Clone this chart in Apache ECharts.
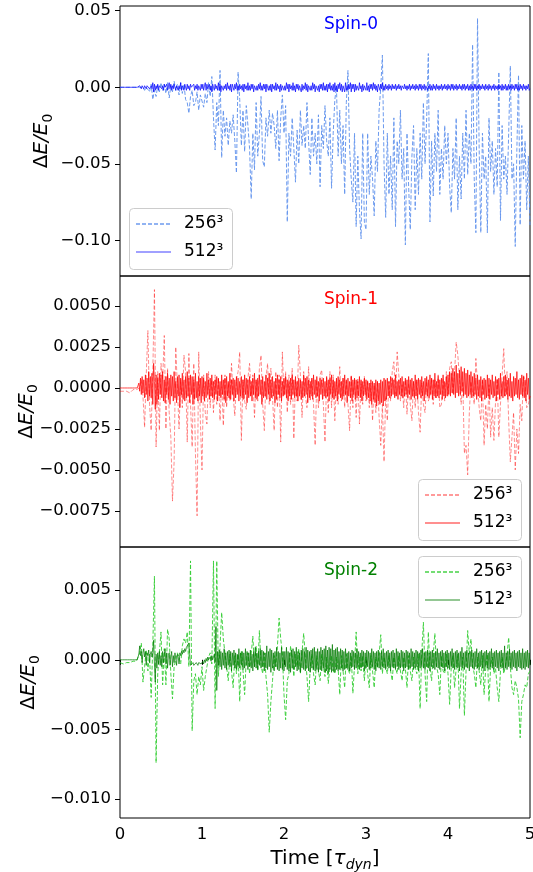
<!DOCTYPE html>
<html>
<head>
<meta charset="utf-8">
<script src="https://cdn.jsdelivr.net/npm/echarts@6/dist/echarts.min.js"></script>
<style>
html, body { margin: 0; padding: 0; background: #fff; }
#chart { width: 533px; height: 872px; }
</style>
</head>
<body>
<div id="chart"></div>
<script>
// sampling steps of the two runs (time in tau_dyn)
const DT_256 = 0.02;
const DT_512 = 0.01;

const xTicks = [0, 1, 2, 3, 4, 5];
const spin0Ticks = [-0.10, -0.05, 0, 0.05];
const spin1Ticks = [-0.0075, -0.005, -0.0025, 0, 0.0025, 0.005];
const spin2Ticks = [-0.010, -0.005, 0, 0.005];
const legendLabels = ['256\u00b3', '512\u00b3'];

// Spin-0, 256^3 (dt = 0.02)
const spin0_256 = [
  0,0,0,0,0,0,0,0,0,0,
  0,0,0,-.001,0,-.002,0,.001,-.003,.002,
  -.008,-.002,-.006,.001,-.003,.003,-.002,.002,-.004,.003,
  -.007,.001,-.003,.004,-.002,.002,-.005,.003,-.004,.002,
  -.008,-.010,-.017,-.006,-.002,-.012,-.010,-.003,-.015,-.005,
  -.005,-.013,-.004,-.010,.003,-.006,.007,-.020,-.041,-.010,
  -.025,.011,-.046,-.015,-.032,-.020,-.038,-.022,-.030,-.018,
  -.035,-.056,.010,-.008,-.038,-.015,-.042,-.012,-.025,-.040,
  -.073,-.030,-.054,-.010,-.045,-.030,-.006,-.048,-.052,-.020,
  -.032,-.015,-.030,-.017,-.025,-.040,-.015,-.048,-.020,-.005,
  -.030,-.012,-.088,-.030,-.045,-.020,-.040,-.062,-.028,-.050,
  -.015,-.038,-.025,-.040,-.010,-.035,-.057,-.020,-.045,-.030,
  -.050,-.018,-.065,-.025,-.040,-.012,-.035,-.045,-.020,-.066,
  -.030,-.008,.000,-.045,-.015,-.050,-.025,-.070,-.010,.011,
  -.040,-.060,-.075,-.030,-.091,-.045,-.080,-.099,-.030,-.088,
  -.093,-.030,-.070,-.045,-.060,-.084,-.035,-.055,-.015,.000,
  .021,-.050,-.085,-.030,-.070,-.045,-.080,-.020,-.091,-.035,
  -.050,-.015,-.060,-.040,-.103,-.030,-.065,-.093,-.045,-.025,
  -.080,-.040,-.070,-.030,-.060,-.010,-.050,-.020,.022,-.088,
  -.035,-.071,-.030,-.055,-.015,-.070,-.040,-.060,-.025,-.050,
  -.030,-.065,-.082,-.040,-.060,-.020,-.080,-.045,-.073,-.030,
  -.060,-.015,-.057,-.030,-.050,.028,-.060,-.095,.045,-.040,
  -.095,-.030,-.060,-.045,-.095,-.020,-.055,-.035,-.070,-.040,
  -.065,.010,-.087,-.025,-.060,-.045,-.070,-.030,.014,-.060,
  -.050,-.104,-.040,.008,-.090,-.025,-.060,-.035,-.080,-.045,
  -.090
];

// Spin-0, 512^3 (dt = 0.01)
const spin0_512 = [
  0,0,0,0,0,0,0,0,0,0,0,0,0,0,0,0,0,0,0,0,
  0,0,0,0,.001,0,-.001,.001,0,-.001,.001,0,-.001,.001,0,.001,-.001,0,.001,-.001,.003,-.003,.002,-.002,.001,-.001,.002,-.002,.001,0,
  .002,-.001,.001,-.002,.002,0,-.001,.002,-.002,.001,.003,-.001,.002,-.002,.001,-.001,.002,0,-.002,.001,.002,-.002,.001,-.001,.003,-.002,.001,0,-.002,.002,.001,-.002,.002,-.001,.001,-.002,.002,0,-.001,.001,.002,-.002,.001,-.001,.002,-.002,.001,0,-.002,.002,
  -.001,.002,-.002,.001,.003,-.002,.002,-.001,0,.002,-.002,.001,-.003,.002,0,-.002,.002,-.001,.001,-.002,.003,-.002,.002,-.003,.001,.002,-.002,.001,-.001,.002,-.002,.003,-.001,.001,-.002,.002,-.003,.002,0,-.002,.002,-.001,.003,-.002,.001,-.002,.002,-.001,.001,-.002,
  .002,-.003,.002,-.001,.001,-.002,.003,-.002,.001,-.002,.002,-.001,.002,-.003,.001,.002,-.002,.001,-.002,.002,-.001,.003,-.002,.001,-.002,.002,-.001,.002,-.003,.002,.003,-.002,.001,-.002,.002,-.003,.002,-.001,.001,-.002,.003,-.002,.002,-.001,.001,-.003,.002,-.002,.001,.002,
  -.002,.001,-.002,.003,-.001,.002,-.003,.002,-.001,.001,-.002,.003,-.002,.001,-.003,.002,-.001,.002,-.002,.001,.002,-.003,.002,-.002,.001,-.001,.003,-.002,.002,-.003,.001,.002,-.002,.001,-.002,.003,-.001,.002,-.003,.001,.002,-.002,.001,-.003,.002,-.001,.002,-.002,.003,-.002,
  .001,-.002,.002,-.003,.002,-.001,.003,-.002,.001,-.002,.002,-.003,.003,-.002,.001,-.003,.002,-.001,.003,-.002,.002,-.003,.001,.002,-.003,.003,-.002,.001,-.002,.002,-.001,.003,-.003,.002,-.001,.002,-.003,.002,-.002,.001,.002,-.002,.003,-.001,.001,-.003,.002,-.002,.001,.002,
  -.002,.003,-.002,.001,-.003,.002,-.001,.002,-.002,.003,-.001,.002,-.002,.001,-.003,.002,.001,-.002,.002,-.001,.003,-.002,.001,-.002,.002,-.001,.001,-.002,.002,-.001,.001,-.002,.002,-.001,.001,-.001,.002,-.002,.001,-.001,.002,-.001,.001,-.002,.001,0,-.001,.002,-.001,.001,
  -.002,.001,-.001,.002,-.002,.001,-.001,.002,-.001,.001,-.002,.002,-.001,.001,-.002,.002,-.001,.002,-.002,.001,-.001,.002,-.002,.001,.002,-.002,.001,-.001,.002,-.002,.001,-.002,.002,-.001,.001,-.002,.002,-.001,.001,-.002,.001,-.001,.002,-.002,.001,-.001,.002,-.001,.001,-.002,
  .002,-.001,.001,-.002,.002,-.001,.002,-.002,.001,-.001,.002,-.002,.001,-.001,.002,-.001,.001,-.002,.002,-.001,.002,-.002,.001,-.001,.002,-.002,.001,-.002,.002,-.001,.001,-.002,.002,-.001,.002,-.002,.001,-.001,.002,-.002,.001,-.001,.002,-.001,.001,-.002,.002,-.001,.001,-.002,
  .002,-.001,.001,-.002,.001,-.001,.002,-.002,.001,-.001,.001,-.002,.002,-.001,.001,-.002,.002,-.002,.001,-.001,.002,-.002,.001,-.002,.002,-.001,.001,-.002,.002,-.001,.001,-.002,.002,-.001,.002,-.002,.001,-.002,.002,-.001,.001,-.002,.002,-.001,.001,-.002,.001,-.001,.002,-.002,
  -.001
];

// Spin-1, 256^3 (dt = 0.02)
const spin1_256 = [
  -.0002,-.0003,-.0002,-.0003,-.0002,-.0002,-.0003,-.0002,-.0001,-.0002,
  -.0001,-.0001,0,.0005,-.0005,-.0024,.0008,.0035,-.0010,-.0026,
  .0010,.0060,-.0036,.0010,-.0026,.0015,.0005,.0032,-.0025,.0012,
  -.0015,-.0030,-.0069,-.0045,.0025,.0026,-.0025,.0005,-.0012,.0020,
  .0010,-.0033,.0021,-.0010,-.0036,.0015,-.0040,-.0078,.0022,-.0020,
  -.0050,.0008,-.0015,-.0022,.0010,-.0012,.0005,-.0015,.0008,-.0010,
  .0006,-.0020,.0004,-.0023,.0008,-.0012,.0003,-.0008,.0015,-.0005,
  -.0017,.0005,.0010,.0022,-.0032,.0005,-.0008,-.0013,.0006,.0015,
  -.0005,.0008,-.0018,.0005,-.0008,.0012,.0020,-.0010,-.0026,.0006,
  .0015,-.0010,.0012,-.0006,-.0026,.0010,-.0012,.0008,-.0033,.0022,
  -.0005,.0010,-.0015,.0008,-.0010,.0012,-.0031,.0005,-.0008,.0026,
  .0008,-.0018,.0010,-.0005,-.0012,.0013,-.0008,.0006,-.0010,-.0035,
  .0005,-.0012,.0008,.0011,-.0010,-.0033,.0006,-.0015,.0010,-.0012,
  .0008,-.0020,.0005,-.0010,.0013,-.0008,.0006,-.0012,.0004,-.0010,
  -.0026,.0008,-.0012,.0005,-.0018,.0006,-.0022,.0004,-.0010,.0007,
  -.0008,.0005,-.0012,.0003,-.0020,.0002,-.0015,.0004,-.0018,-.0035,
  -.0010,-.0045,-.0005,-.0020,.0004,-.0008,.0010,.0016,-.0005,.0022,
  .0008,-.0008,.0002,-.0012,.0005,-.0016,.0003,-.0010,-.0020,.0004,
  -.0012,.0005,-.0015,-.0027,.0003,-.0010,-.0015,.0004,-.0008,-.0005,
  .0006,-.0010,.0005,-.0006,.0008,-.0012,-.0010,.0006,-.0008,.0010,
  -.0005,.0012,.0016,-.0004,.0010,.0028,.0020,.0006,-.0010,.0004,
  -.0040,-.0035,-.0053,-.0015,.0004,.0005,-.0010,.0018,.0002,-.0012,
  -.0020,.0004,-.0035,-.0010,-.0025,.0002,-.0030,-.0012,-.0032,-.0008,
  .0006,-.0030,-.0010,.0008,.0024,-.0005,.0010,-.0020,-.0045,-.0030,
  -.0015,-.0050,-.0025,-.0040,-.0010,-.0020,.0008,.0005,-.0012,-.0010,
  -.0005
];

// Spin-1, 512^3 (dt = 0.01)
const spin1_512 = [
  0,0,0,0,0,0,0,0,0,0,0,0,0,0,0,0,0,0,0,0,0,0,0,
  .0003,-.0002,.0006,-.0004,.0007,-.0003,.0005,-.0006,.0008,-.0004,.0006,-.0008,.0010,-.0005,.0007,-.0006,.0009,-.0010,.0015,.0004,-.0013,.0008,-.0010,.0006,-.0007,.0009,-.0004,
  .0008,-.0006,.0010,-.0008,.0005,-.0009,.0007,-.0004,.0009,-.0007,.0006,-.0010,.0008,-.0005,.0007,-.0008,.0010,-.0006,.0004,-.0009,.0007,-.0005,.0008,-.0012,.0006,-.0004,.0009,-.0007,.0005,-.0008,.0007,-.0006,.0010,-.0005,.0006,-.0009,.0008,-.0004,.0007,-.0010,.0005,-.0007,.0009,-.0006,.0004,-.0008,.0007,-.0005,.0006,-.0009,
  .0007,-.0005,.0006,-.0008,.0004,-.0006,.0009,-.0004,.0005,-.0007,.0006,-.0005,.0008,-.0006,.0004,-.0007,.0005,-.0004,.0007,-.0008,.0006,-.0005,.0004,-.0006,.0008,-.0004,.0005,-.0007,.0006,-.0009,.0007,-.0005,.0004,-.0006,.0009,-.0007,.0005,-.0004,.0006,-.0008,.0005,-.0006,.0007,-.0004,.0006,-.0008,.0004,-.0005,.0007,-.0006,
  .0005,-.0007,.0008,-.0004,.0006,-.0009,.0005,-.0006,.0007,-.0005,.0004,-.0008,.0006,-.0004,.0009,-.0006,.0005,-.0007,.0006,-.0005,.0008,-.0004,.0005,-.0010,.0007,-.0006,.0004,-.0005,.0008,-.0007,.0006,-.0004,.0009,-.0008,.0005,-.0006,.0007,-.0005,.0004,-.0009,.0006,-.0007,.0008,-.0004,.0005,-.0006,.0007,-.0008,.0004,-.0005,
  .0006,-.0004,.0007,-.0006,.0005,-.0008,.0004,-.0005,.0006,-.0007,.0008,-.0004,.0005,-.0006,.0007,-.0005,.0004,-.0008,.0006,-.0005,.0005,-.0007,.0004,-.0006,.0008,-.0005,.0006,-.0004,.0007,-.0009,.0005,-.0006,.0004,-.0005,.0006,-.0007,.0008,-.0004,.0005,-.0006,.0007,-.0005,.0004,-.0008,.0006,-.0004,.0005,-.0007,.0006,-.0005,
  .0004,-.0006,.0007,-.0005,.0005,-.0008,.0006,-.0004,.0008,-.0006,.0005,-.0007,.0004,-.0005,.0006,-.0008,.0007,-.0004,.0005,-.0006,.0004,-.0007,.0006,-.0005,.0008,-.0004,.0005,-.0009,.0006,-.0005,.0004,-.0006,.0007,-.0008,.0005,-.0004,.0006,-.0007,.0005,-.0006,.0004,-.0005,.0007,-.0006,.0005,-.0008,.0004,-.0005,.0006,-.0004,
  .0005,-.0007,.0004,-.0006,.0003,-.0008,.0005,-.0010,.0004,-.0007,.0003,-.0009,.0005,-.0011,.0004,-.0008,.0003,-.0010,.0005,-.0009,.0004,-.0011,.0006,-.0008,.0005,-.0007,.0006,-.0005,.0004,-.0006,.0007,-.0005,.0006,-.0004,.0005,-.0006,.0008,-.0005,.0004,-.0007,.0005,-.0004,.0006,-.0005,.0007,-.0006,.0004,-.0005,.0006,-.0004,
  .0005,-.0006,.0007,-.0004,.0005,-.0007,.0006,-.0005,.0004,-.0006,.0008,-.0005,.0005,-.0007,.0006,-.0004,.0005,-.0006,.0007,-.0005,.0004,-.0008,.0006,-.0004,.0007,-.0005,.0005,-.0006,.0008,-.0004,.0006,-.0007,.0005,-.0005,.0009,-.0006,.0004,-.0005,.0007,-.0006,.0005,-.0004,.0006,-.0007,.0008,-.0005,.0004,-.0006,.0007,-.0005,
  .0008,-.0004,.0010,-.0005,.0009,-.0003,.0012,-.0004,.0010,-.0006,.0014,-.0003,.0009,-.0005,.0011,-.0004,.0013,-.0002,.0010,-.0005,.0012,-.0004,.0009,-.0006,.0011,-.0005,.0008,-.0004,.0010,-.0006,.0007,-.0005,.0009,-.0004,.0006,-.0007,.0008,-.0005,.0005,-.0006,.0007,-.0008,.0005,-.0004,.0006,-.0007,.0005,-.0006,.0008,-.0005,
  .0006,-.0007,.0005,-.0004,.0008,-.0006,.0004,-.0005,.0007,-.0008,.0005,-.0004,.0006,-.0007,.0009,-.0005,.0004,-.0006,.0007,-.0005,.0008,-.0004,.0005,-.0007,.0006,-.0005,.0009,-.0006,.0004,-.0008,.0007,-.0005,.0006,-.0004,.0010,-.0006,.0005,-.0007,.0006,-.0004,.0008,-.0005,.0007,-.0006,.0005,-.0008,.0009,-.0004,.0006,-.0007,
  -.0005
];

// Spin-2, 256^3 (dt = 0.02)
const spin2_256 = [
  -.0002,-.0002,-.0003,-.0002,-.0002,-.0003,-.0002,-.0002,-.0001,-.0002,
  -.0001,0,.0005,.0012,-.0016,-.0005,.0007,-.0008,.0004,-.0027,
  .0010,.0060,-.0074,-.0010,.0005,.0020,-.0018,.0008,-.0018,.0022,
  .0015,-.0010,-.0028,-.0005,-.0005,.0005,.0002,-.0003,.0010,.0015,
  .0012,.0020,-.0005,.0071,-.0051,-.0015,-.0010,-.0025,-.0012,-.0018,
  -.0005,-.0022,-.0012,-.0005,.0002,.0005,-.0003,.0071,-.0035,.0071,
  -.0012,.0010,.0034,.0015,.0005,-.0005,-.0015,.0004,-.0008,-.0020,
  .0003,-.0010,.0004,-.0030,.0006,-.0008,-.0025,.0002,.0005,-.0010,
  .0004,.0017,-.0005,.0010,-.0008,.0021,-.0004,-.0010,.0005,-.0012,
  -.0025,-.0052,-.0030,-.0015,.0003,-.0005,.0010,.0030,.0015,.0005,
  -.0025,-.0043,-.0015,-.0010,.0010,.0002,-.0012,.0004,-.0005,.0008,
  -.0010,.0006,.0019,.0002,-.0012,-.0030,-.0005,.0004,-.0010,-.0018,
  .0003,-.0008,-.0015,.0004,-.0005,-.0012,.0002,-.0017,-.0004,.0003,
  -.0008,-.0010,.0002,-.0006,-.0025,.0003,-.0008,-.0020,.0004,-.0006,
  -.0010,.0003,-.0024,-.0004,.0020,-.0010,.0002,-.0008,.0003,-.0015,
  .0002,-.0010,-.0020,.0003,-.0008,-.0020,.0002,-.0006,.0004,.0018,
  -.0010,.0002,-.0005,-.0010,.0003,-.0008,-.0015,.0002,-.0006,-.0010,
  .0003,-.0008,-.0015,.0002,-.0006,-.0020,.0003,-.0008,-.0015,.0002,
  -.0006,-.0010,.0004,-.0035,.0005,.0027,-.0010,-.0030,.0020,-.0006,
  -.0015,.0004,.0019,-.0005,-.0010,-.0025,.0003,-.0008,-.0010,.0004,
  -.0010,-.0032,-.0005,.0003,-.0020,-.0006,.0004,-.0035,-.0010,.0002,
  -.0040,-.0008,.0021,.0004,.0015,-.0004,-.0010,-.0020,.0002,-.0008,
  -.0018,.0003,-.0025,-.0006,.0004,-.0030,-.0005,.0002,-.0010,-.0006,
  -.0020,-.0030,-.0008,.0002,-.0010,-.0005,.0004,.0016,-.0005,-.0020,
  -.0025,-.0015,-.0020,-.0028,-.0056,-.0030,-.0025,-.0018,-.0020,-.0010,
  -.0008
];

// Spin-2, 512^3 (dt = 0.01)
const spin2_512 = [
  0,0,0,0,0,0,0,0,0,0,0,0,0,0,0,0,0,0,0,0,0,0,
  .0002,.0004,.0010,.0003,.0006,-.0002,.0005,.0008,.0002,.0006,-.0004,.0005,.0003,.0007,-.0002,.0004,.0006,.0002,.0005,.0014,-.0003,-.0016,.0004,-.0006,.0005,-.0003,.0006,-.0004,
  .0003,-.0005,.0006,-.0002,.0004,.0008,-.0003,.0005,-.0006,.0003,.0005,-.0004,.0002,.0006,-.0005,.0003,-.0002,.0005,.0001,-.0004,.0004,.0002,-.0003,.0005,.0003,.0006,.0004,.0007,.0005,.0008,.0006,.0009,.0010,.0008,.0012,.0011,-.0004,-.0003,-.0005,-.0002,-.0004,-.0003,-.0005,-.0002,-.0003,-.0004,-.0002,-.0003,-.0001,-.0003,
  -.0002,-.0001,-.0003,0,-.0002,.0001,-.0001,.0002,0,.0001,.0002,-.0001,.0003,0,.0002,.0004,-.0002,.0024,-.0022,.0006,-.0004,.0007,-.0005,.0006,-.0007,.0005,-.0004,.0008,-.0006,.0005,-.0007,.0006,-.0004,.0007,-.0005,.0006,-.0008,.0005,-.0004,.0007,-.0006,.0005,-.0007,.0004,-.0005,.0008,-.0006,.0005,-.0004,.0006,
  -.0007,.0005,-.0006,.0008,-.0004,.0006,-.0007,.0005,-.0005,.0007,-.0006,.0004,-.0008,.0006,-.0005,.0009,-.0006,.0005,-.0007,.0006,-.0004,.0008,-.0006,.0007,-.0005,.0006,-.0008,.0005,-.0006,.0010,-.0007,.0006,-.0005,.0008,-.0009,.0007,-.0006,.0005,-.0008,.0006,-.0005,.0009,-.0007,.0006,-.0008,.0005,-.0006,.0009,-.0007,.0006,
  -.0008,.0006,-.0005,.0009,-.0007,.0006,-.0008,.0005,-.0009,.0007,-.0006,.0008,-.0007,.0006,-.0005,.0009,-.0008,.0006,-.0007,.0005,-.0009,.0007,-.0006,.0008,-.0007,.0006,-.0008,.0009,-.0006,.0007,-.0008,.0006,-.0009,.0007,-.0006,.0008,-.0007,.0009,-.0008,.0006,-.0007,.0008,-.0009,.0006,-.0007,.0009,-.0008,.0007,-.0006,.0008,
  -.0009,.0010,-.0008,.0007,-.0010,.0009,-.0007,.0008,-.0009,.0011,-.0008,.0007,-.0009,.0008,-.0007,.0009,-.0008,.0006,-.0007,.0008,-.0006,.0007,-.0008,.0006,-.0007,.0008,-.0006,.0005,-.0007,.0006,-.0008,.0005,-.0006,.0007,-.0005,.0006,-.0007,.0005,-.0006,.0008,-.0005,.0006,-.0007,.0005,-.0006,.0007,-.0005,.0006,-.0008,.0005,
  -.0006,.0007,-.0005,.0006,-.0007,.0005,-.0006,.0008,-.0005,.0006,-.0007,.0005,-.0008,.0006,-.0005,.0007,-.0006,.0005,-.0007,.0006,-.0005,.0008,-.0006,.0005,-.0007,.0006,-.0005,.0007,-.0006,.0005,-.0008,.0006,-.0005,.0007,-.0006,.0005,-.0007,.0008,-.0005,.0006,-.0007,.0005,-.0006,.0007,-.0005,.0006,-.0008,.0005,-.0006,.0007,
  -.0005,.0006,-.0007,.0005,-.0006,.0008,-.0005,.0006,-.0007,.0005,-.0006,.0007,-.0005,.0006,-.0008,.0005,-.0006,.0007,-.0005,.0008,-.0006,.0005,-.0007,.0006,-.0005,.0007,-.0006,.0005,-.0008,.0006,-.0005,.0007,-.0006,.0005,-.0007,.0006,-.0005,.0008,-.0006,.0005,-.0007,.0006,-.0005,.0007,-.0006,.0005,-.0008,.0006,-.0005,.0007,
  -.0006,.0005,-.0007,.0006,-.0005,.0008,-.0006,.0005,-.0007,.0006,-.0005,.0007,-.0006,.0005,-.0008,.0006,-.0005,.0009,-.0006,.0005,-.0007,.0006,-.0005,.0007,-.0006,.0005,-.0008,.0006,-.0005,.0007,-.0006,.0005,-.0007,.0006,-.0005,.0008,-.0006,.0005,-.0007,.0006,-.0005,.0007,-.0006,.0005,-.0008,.0006,-.0005,.0007,-.0006,.0005,
  -.0007,.0006,-.0005,.0008,-.0006,.0005,-.0007,.0006,-.0005,.0007,-.0006,.0005,-.0008,.0006,-.0005,.0007,-.0006,.0005,-.0007,.0010,-.0006,.0005,-.0007,.0006,-.0005,.0008,-.0006,.0005,-.0007,.0006,-.0005,.0007,-.0006,.0005,-.0008,.0006,-.0005,.0007,-.0006,.0005,-.0007,.0008,-.0006,.0005,-.0007,.0006,-.0005,.0007,-.0006,.0005,
  -.0004
];

const FONT = 'DejaVu Sans';
const toPairs = (vals, dt) => vals.map((v, i) => [+(i * dt).toFixed(2), v]);
const fmt = d => v => (v < -1e-12 ? '\u2212' : '') + Math.abs(v).toFixed(d);

const panels = [
  { top: 6, height: 270, min: -0.1233, max: 0.0531, ticks: spin0Ticks, dec: 2, gap: 65,
    title: 'Spin-0', titleColor: '#0000ff', titleY: 24.5,
    lowRes: spin0_256, highRes: spin0_512,
    lowColor: '#6495ed', lowOpacity: 0.95, highColor: '#0000ff', highOpacity: 0.9,
    legendColors: ['#6d9bee', '#8080ff'],
    legend: { left: 129, top: 208 } },
  { top: 276, height: 271, min: -0.0097, max: 0.00683, ticks: spin1Ticks, dec: 4, gap: 80,
    title: 'Spin-1', titleColor: '#ff0000', titleY: 300,
    lowRes: spin1_256, highRes: spin1_512,
    lowColor: '#ff0000', lowOpacity: 0.45, highColor: '#ff0000', highOpacity: 0.9,
    legendColors: ['#ff7a7a', '#ff6a6a'],
    legend: { left: 418, top: 479 } },
  { top: 547, height: 271, min: -0.01136, max: 0.0081, ticks: spin2Ticks, dec: 3, gap: 78,
    title: 'Spin-2', titleColor: '#008000', titleY: 570.5,
    lowRes: spin2_256, highRes: spin2_512,
    lowColor: '#32cd32', lowOpacity: 0.9, highColor: '#007a00', highOpacity: 0.9,
    legendColors: ['#47d247', '#70b470'],
    legend: { left: 418, top: 556 } }
];

const option = {
  animation: false,
  grid: [], xAxis: [], yAxis: [], series: [], graphic: []
};

// matplotlib-like legend box drawn with graphic elements
function legendBox(p) {
  const L = p.legend.left, T = p.legend.top;
  const rows = [
    { y: T + 16, color: p.legendColors[0], dash: [4, 2], text: legendLabels[0] },
    { y: T + 44, color: p.legendColors[1], dash: null, text: legendLabels[1] }
  ];
  const els = [{
    type: 'rect', z: 50,
    shape: { x: L + 0.5, y: T + 0.5, width: 103, height: 61, r: 4 },
    style: { fill: 'rgba(255,255,255,0.8)', stroke: '#cccccc', lineWidth: 1 }
  }];
  rows.forEach(r => {
    els.push({
      type: 'line', z: 51,
      shape: { x1: L + 7, y1: r.y, x2: L + 42, y2: r.y },
      style: { stroke: r.color, lineWidth: 1.4, lineDash: r.dash }
    });
    els.push({
      type: 'text', z: 51, x: L + 55, y: r.y,
      style: { text: r.text, fill: '#000', font: '17px "DejaVu Sans"', verticalAlign: 'middle', align: 'left' }
    });
  });
  return els;
}

panels.forEach((p, k) => {
  const last = k === panels.length - 1;
  option.grid.push({
    left: 120, right: 3, top: p.top, height: p.height,
    outerBoundsMode: 'none', containLabel: false,
    show: true, borderColor: '#000', borderWidth: 1, backgroundColor: 'transparent'
  });
  option.xAxis.push({
    type: 'value', gridIndex: k, min: 0, max: 5, interval: 1,
    axisLine: { show: false },
    splitLine: { show: false },
    axisTick: { show: last, length: 5, lineStyle: { color: '#000' } },
    axisLabel: { show: last, margin: 8, color: '#000', fontFamily: FONT, fontSize: 16.5 },
    name: last ? '{a|Time [}{t|\u03c4}{s|dyn}{a|]}' : '',
    nameLocation: 'middle', nameGap: 28, nameMoveOverlap: false,
    nameTextStyle: {
      rich: {
        a: { fontFamily: FONT, fontSize: 20, color: '#000', lineHeight: 26 },
        t: { fontFamily: FONT, fontSize: 20, fontStyle: 'italic', color: '#000', lineHeight: 26 },
        s: { fontFamily: FONT, fontSize: 14, fontStyle: 'italic', color: '#000', lineHeight: 14, verticalAlign: 'bottom' }
      }
    }
  });
  option.yAxis.push({
    type: 'value', gridIndex: k, min: p.min, max: p.max,
    axisLine: { show: false },
    splitLine: { show: false },
    axisTick: { customValues: p.ticks, length: 5, lineStyle: { color: '#000' } },
    axisLabel: { customValues: p.ticks, formatter: fmt(p.dec), margin: 9, color: '#000', fontFamily: FONT, fontSize: 16.5 },
    name: '{d|\u0394}{e|E/E}{s|0}',
    nameLocation: 'middle', nameGap: p.gap, nameRotate: 90, nameMoveOverlap: false,
    nameTextStyle: {
      rich: {
        d: { fontFamily: FONT, fontSize: 20, color: '#000', lineHeight: 26 },
        e: { fontFamily: FONT, fontSize: 20, fontStyle: 'italic', color: '#000', lineHeight: 26 },
        s: { fontFamily: FONT, fontSize: 14, color: '#000', lineHeight: 14, verticalAlign: 'bottom' }
      }
    }
  });
  option.series.push({
    name: p.title + ' ' + legendLabels[0], type: 'line', xAxisIndex: k, yAxisIndex: k,
    data: toPairs(p.lowRes, DT_256),
    symbol: 'none', showSymbol: false, smooth: false, clip: true,
    lineStyle: { color: p.lowColor, opacity: p.lowOpacity, width: 1, type: [4, 2] },
    itemStyle: { color: p.lowColor }
  });
  option.series.push({
    name: p.title + ' ' + legendLabels[1], type: 'line', xAxisIndex: k, yAxisIndex: k,
    data: toPairs(p.highRes, DT_512),
    symbol: 'none', showSymbol: false, smooth: false, clip: true,
    lineStyle: { color: p.highColor, opacity: p.highOpacity, width: 0.8, type: 'solid' },
    itemStyle: { color: p.highColor }
  });
  option.graphic.push(...legendBox(p));
  option.graphic.push({
    type: 'text', x: 351, y: p.titleY, z: 100,
    style: { text: p.title, fill: p.titleColor, font: '17px "DejaVu Sans"', align: 'center', verticalAlign: 'middle' }
  });
});

const chart = echarts.init(document.getElementById('chart'));
chart.setOption(option);
window.addEventListener('resize', () => chart.resize());
</script>
</body>
</html>
